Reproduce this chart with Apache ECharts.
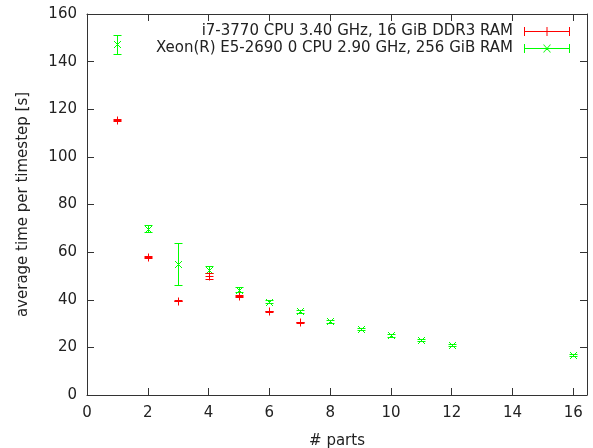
<!DOCTYPE html>
<html>
<head>
<meta charset="utf-8">
<title>average time per timestep</title>
<script src="https://cdn.jsdelivr.net/npm/echarts@6/dist/echarts.min.js"></script>
<style>
    html, body { margin: 0; padding: 0; background: #fff; }
    #chart { width: 593px; height: 448px; }
</style>
</head>
<body>
<div id="chart"></div>
<script>
    // values
    var xTicks = [0, 2, 4, 6, 8, 10, 12, 14, 16];
    var yTicks = [0, 20, 40, 60, 80, 100, 120, 140, 160];

    var i7Name = "i7-3770 CPU 3.40 GHz, 16 GiB DDR3 RAM";
    var i7Parts = [1, 2, 3, 4, 5, 6, 7];
    var i7Time = [115.4, 58.0, 39.6, 50.0, 41.5, 35.1, 30.5];
    var i7Low = [115.1, 57.7, 39.4, 48.8, 41.2, 34.8, 30.3];
    var i7High = [115.7, 58.3, 39.8, 51.2, 41.8, 35.4, 30.7];

    var xeonName = "Xeon(R) E5-2690 0 CPU 2.90 GHz, 256 GiB RAM";
    var xeonParts = [1, 2, 3, 4, 5, 6, 7, 8, 9, 10, 11, 12, 16];
    var xeonTime = [147.2, 69.9, 55.1, 52.7, 44.2, 39.1, 35.1, 30.9, 27.6, 25.0, 23.0, 20.9, 16.9];
    var xeonLow = [143.1, 68.5, 46.3, 51.3, 43.3, 38.5, 34.5, 30.4, 27.1, 24.5, 22.5, 20.4, 16.4];
    var xeonHigh = [151.1, 71.3, 63.9, 54.1, 45.3, 39.7, 35.6, 31.4, 28.1, 25.5, 23.5, 21.4, 17.4];

    var font = "DejaVu Sans";
    var textColor = "#222";
    var fs = 15;

    function rows(xs, ys, lo, hi) {
        var out = [];
        for (var i = 0; i < xs.length; i++) out.push([xs[i], ys[i], lo[i], hi[i]]);
        return out;
    }

    // one path per point: error bar, caps and the marker
    function errRender(marker, c) {
        return function (params, api) {
            var p = api.coord([api.value(0), api.value(1)]);
            var pl = api.coord([api.value(0), api.value(2)]);
            var ph = api.coord([api.value(0), api.value(3)]);
            var x = Math.round(p[0]) + 0.5, y = Math.round(p[1]) + 0.5;
            var yl = Math.round(pl[1]) + 0.5, yh = Math.round(ph[1]) + 0.5;
            var d = "M" + x + "," + yl + "L" + x + "," + yh
                + "M" + (x - 4) + "," + yl + "L" + (x + 4) + "," + yl
                + "M" + (x - 4) + "," + yh + "L" + (x + 4) + "," + yh;
            if (marker === "plus") {
                d += "M" + (x - 4) + "," + y + "L" + (x + 4) + "," + y
                    + "M" + x + "," + (y - 4) + "L" + x + "," + (y + 4);
            } else {
                d += "M" + (x - 3.5) + "," + (y - 3.5) + "L" + (x + 3.5) + "," + (y + 3.5)
                    + "M" + (x - 3.5) + "," + (y + 3.5) + "L" + (x + 3.5) + "," + (y - 3.5);
            }
            return {
                type: "path",
                shape: {pathData: d},
                style: {stroke: c, fill: null, lineWidth: 1, lineCap: "butt"}
            };
        };
    }

    var iconPlus = "path://M0,0h1v9h-1z M45,0h1v9h-1z M0,4h46v1h-46z M22.5,0h1v9h-1z";
    var iconCross = "path://M0,0h1v9h-1z M45,0h1v9h-1z M0,4h46v1h-46z M19,0.5l1,0l7,8l-1,0z M26,0.5l1,0l-7,8l-1,0z";

    var axisLine = {show: true, onZero: false, lineStyle: {color: "#333", width: 1}};
    var tick = {show: true, inside: true, length: 7, lineStyle: {color: "#333"}};
    var label = {color: textColor, fontSize: fs, fontFamily: font};
    var legendText = {color: textColor, fontSize: fs, fontFamily: font, padding: [0, 6, 0, 0]};

    var chart = echarts.init(document.getElementById("chart"));
    chart.setOption({
        animation: false,
        grid: {left: 87, right: 6, top: 14, bottom: 53, outerBoundsMode: "none"},
        legend: [
            {
                right: 18, top: 19, align: "right", itemWidth: 46, itemHeight: 9,
                selectedMode: false,
                data: [{name: i7Name, icon: iconPlus, itemStyle: {color: "#ff0000"}}],
                textStyle: legendText
            },
            {
                right: 18, top: 36, align: "right", itemWidth: 46, itemHeight: 9,
                selectedMode: false,
                data: [{name: xeonName, icon: iconCross, itemStyle: {color: "#00ff00"}}],
                textStyle: legendText
            }
        ],
        xAxis: [
            {
                type: "value", min: 0, max: 16.45, interval: 2,
                name: "# parts", nameLocation: "middle", nameGap: 39,
                nameTextStyle: {color: textColor, fontSize: fs, fontFamily: font},
                axisLine: axisLine, axisTick: tick, splitLine: {show: false},
                axisLabel: Object.assign({margin: 11, showMaxLabel: false, formatter: function (v) {
                    return xTicks.indexOf(v) >= 0 ? String(v) : "";
                }}, label)
            },
            {
                type: "value", min: 0, max: 16.45, interval: 2, position: "top",
                axisLine: axisLine, axisTick: tick, splitLine: {show: false},
                axisLabel: {show: false}
            }
        ],
        yAxis: [
            {
                type: "value", min: 0, max: 160, interval: 20,
                name: "average time per timestep [s]", nameLocation: "middle", nameGap: 56,
                nameTextStyle: {color: textColor, fontSize: fs, fontFamily: font},
                axisLine: axisLine, axisTick: tick, splitLine: {show: false},
                axisLabel: Object.assign({margin: 10, formatter: function (v) {
                    return yTicks.indexOf(v) >= 0 ? String(v) : "";
                }}, label)
            },
            {
                type: "value", min: 0, max: 160, interval: 20, position: "right",
                axisLine: axisLine, axisTick: tick, splitLine: {show: false},
                axisLabel: {show: false}
            }
        ],
        series: [
            {
                name: xeonName, type: "custom", silent: true, clip: false, progressive: 0,
                itemStyle: {color: "#00ff00"},
                emphasis: {disabled: true},
                renderItem: errRender("cross", "#00ff00"),
                encode: {x: 0, y: [1, 2, 3]},
                data: rows(xeonParts, xeonTime, xeonLow, xeonHigh)
            },
            {
                name: i7Name, type: "custom", silent: true, clip: false, progressive: 0,
                itemStyle: {color: "#ff0000"},
                emphasis: {disabled: true},
                renderItem: errRender("plus", "#ff0000"),
                encode: {x: 0, y: [1, 2, 3]},
                data: rows(i7Parts, i7Time, i7Low, i7High)
            }
        ]
    });
</script>
</body>
</html>
